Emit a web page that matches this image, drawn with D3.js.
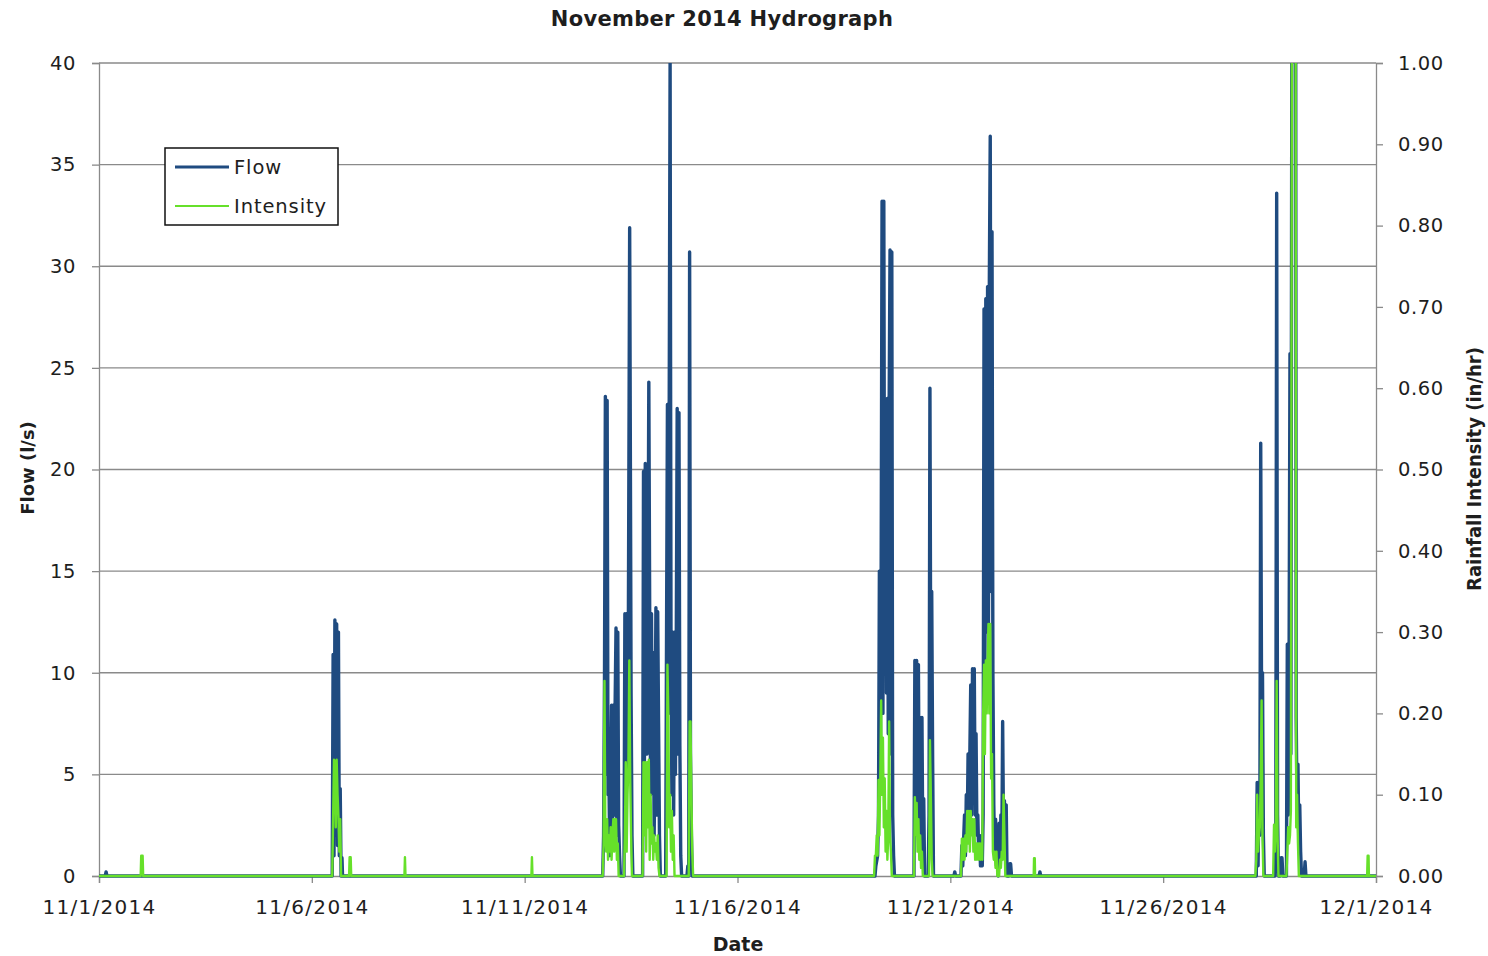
<!DOCTYPE html>
<html>
<head>
<meta charset="utf-8">
<script src="https://cdn.jsdelivr.net/npm/d3@7"></script>
<style>
  html, body { margin: 0; padding: 0; background: #fff; }
  svg { display: block; }
  text { fill: #1e1e1e; }
</style>
</head>
<body>
<svg id="chart" width="1488" height="956"></svg>
<script>
// ---- Chart text ----
const chartTitle = "November 2014 Hydrograph";
const xTitle = "Date";
const yLeftTitle = "Flow (l/s)";
const yRightTitle = "Rainfall Intensity (in/hr)";
const seriesNames = ["Flow", "Intensity"];

// ---- Axis ticks ----
const xTickLabels = ["11/1/2014", "11/6/2014", "11/11/2014", "11/16/2014", "11/21/2014", "11/26/2014", "12/1/2014"];
const flowTicks = [0, 5, 10, 15, 20, 25, 30, 35, 40];
const intensityTicks = [0, 0.1, 0.2, 0.3, 0.4, 0.5, 0.6, 0.7, 0.8, 0.9, 1.0];

// ---- Flow readings: [hours after 11/1/2014 00:00, flow in l/s] ----
const flowReadings = [
  [0, 0], [3.5, 0], [4, 0.2], [4.5, 0],
  // 11/6 storm
  [131.5, 0], [132, 10.9], [132.5, 1], [133, 12.6], [133.5, 2], [134, 12.4], [134.5, 1.5], [135, 12.0],
  [135.5, 1], [136, 4.3], [136.5, 0], [137, 0.9], [137.3, 0],
  // 11/12 - 11/15 storms
  [284, 0], [284.5, 2], [285, 9.5], [285.5, 23.6], [286, 5], [286.5, 23.4], [287, 4], [287.5, 4.9],
  [288, 1], [288.5, 4.9], [289, 8.4], [289.5, 1.5], [290, 8.4], [290.5, 3], [291, 8.4], [291.5, 12.2],
  [292, 2], [292.5, 12.0], [293, 2.5], [293.5, 1], [294, 0],
  [296, 0], [296.5, 12.9], [297, 4], [297.5, 12.9], [298, 5], [298.5, 13], [299.2, 31.9], [300, 9],
  [300.5, 2], [301, 0],
  [306.5, 0], [307, 19.9], [307.5, 5], [308, 20.3], [308.5, 12.9], [309, 6], [309.5, 12.9], [310, 24.3],
  [310.5, 12.9], [311, 4], [311.5, 12.9], [312, 5], [312.5, 11], [313, 2], [313.5, 6], [314, 13.2],
  [314.5, 3], [315, 13], [315.5, 7.5], [316, 2], [316.5, 0],
  [319.5, 0], [320, 12], [320.5, 23.2], [321, 8], [321.5, 23.2], [322, 40], [322.5, 12], [323, 4],
  [323.5, 12], [324, 3], [324.5, 12], [325, 5], [325.5, 12], [326, 23], [326.5, 6], [327, 22.8],
  [327.5, 6.4], [328, 1], [328.5, 0],
  [331.5, 0], [332, 0.5], [332.5, 0], [333, 30.7], [333.5, 6], [334, 2], [334.5, 0],
  // 11/19 - 11/20 storms
  [437.5, 0], [438, 0.5], [439, 1], [439.5, 3], [440, 15], [440.5, 5], [441, 15], [441.5, 33.2],
  [442, 8], [442.5, 33.2], [443, 10], [443.5, 23.4], [444, 9], [444.5, 23.5], [445, 7], [445.5, 23],
  [446, 30.8], [446.5, 6], [447, 30.7], [447.5, 3], [448, 1], [448.5, 0],
  [459.5, 0], [460, 10.6], [460.5, 2], [461, 10.6], [461.5, 3], [462, 10.4], [462.5, 2], [463, 7.8],
  [463.5, 1], [464, 7.8], [464.5, 1], [465, 3.8], [465.5, 0],
  [467.5, 0], [468, 3], [468.5, 24], [469, 8], [469.5, 14], [470, 6], [470.5, 0],
  // 11/21 - 11/22 storm
  [482, 0], [482.5, 0.2], [483, 0],
  [486, 0], [486.5, 1.5], [487, 0.5], [487.5, 1.8], [488, 3], [488.5, 1], [489, 4], [489.5, 2],
  [490, 6], [490.5, 2], [491, 6], [491.5, 9.4], [492, 3], [492.5, 10.2], [493, 4], [493.5, 10.2],
  [494, 3], [494.5, 7], [495, 2], [495.5, 3], [496, 1], [496.5, 2], [497, 0.5], [497.5, 1],
  [498, 0.5], [498.5, 3], [499, 27.9], [499.5, 10], [500, 28.4], [500.5, 12], [501, 29], [501.5, 12],
  [502, 29.3], [502.5, 36.4], [503, 14], [503.5, 31.7], [504, 10], [504.5, 3.5], [505, 1], [505.5, 2.8],
  [506, 0.5], [506.5, 1.5], [507, 0], [507.5, 2.6], [508, 0.5], [508.5, 3], [509, 1], [509.5, 7.6],
  [510, 2], [510.5, 3.7], [511, 1], [511.5, 3.5], [512, 0],
  [513, 0], [513.5, 0.6], [514, 0.6], [514.5, 0],
  [530, 0], [530.5, 0.2], [531, 0],
  // 11/28 - 11/29 storms
  [652.5, 0], [653, 4.6], [653.5, 0.5], [654, 4], [654.5, 2], [655, 21.3], [655.5, 8], [656, 10],
  [656.5, 2], [657, 0],
  [663, 0], [663.5, 2], [664, 33.6], [664.5, 3], [665, 0], [666, 0], [666.5, 0.9], [667, 0.9], [667.5, 0],
  [669.5, 0], [670, 11.4], [670.5, 3], [671, 10.6], [671.5, 25.7], [672, 6], [672.6, 45], [674.7, 45],
  [675, 7.8], [675.5, 3], [676, 5.5], [676.5, 1.5], [677, 3.5], [677.5, 1.2], [678, 0],
  [679.5, 0], [680, 0.7], [680.5, 0],
  [720, 0]
];

// ---- Rainfall intensity readings: [hours after 11/1/2014 00:00, in/hr] ----
const intensityReadings = [
  [0, 0], [23.5, 0], [23.8, 0.025], [24.6, 0.025], [24.9, 0],
  // 11/6 storm
  [131.5, 0], [132.5, 0.143], [133, 0.14], [133.5, 0.06], [134, 0.143], [134.5, 0.1], [135, 0.073],
  [135.5, 0.03], [136, 0.07], [136.5, 0],
  [141, 0], [141.3, 0.023], [141.9, 0.023], [142.2, 0],
  [172.2, 0], [172.5, 0.023], [172.8, 0],
  [243.8, 0], [244.1, 0.023], [244.4, 0],
  // 11/12 - 11/15 storms
  [284, 0], [284.5, 0.04], [285, 0.24], [285.5, 0.05], [286, 0.03], [286.5, 0.07], [287, 0.02],
  [287.5, 0.05], [288, 0.03], [288.5, 0.06], [289, 0.02], [289.5, 0.05], [290, 0.07], [290.5, 0.03],
  [291, 0.07], [291.5, 0.07], [292, 0.02], [292.5, 0.04], [293, 0],
  [296, 0], [296.5, 0.05], [297, 0.14], [297.5, 0.03], [298, 0.1], [298.5, 0.14], [299, 0.265],
  [299.5, 0.12], [300, 0.05], [300.5, 0],
  [306.5, 0], [307, 0.14], [307.5, 0.05], [308, 0.14], [308.5, 0.03], [309, 0.14], [309.5, 0.06],
  [310, 0.143], [310.5, 0.02], [311, 0.1], [311.5, 0.04], [312, 0.06], [312.5, 0.02], [313, 0.05],
  [313.5, 0.03], [314, 0.04], [314.5, 0.02], [315, 0.05], [315.5, 0.01], [316, 0],
  [320, 0], [320.5, 0.26], [321, 0.2], [321.5, 0.06], [322, 0.1], [322.5, 0.03], [323, 0.08],
  [323.5, 0.02], [324, 0.05], [324.5, 0],
  [332.5, 0], [333, 0.19], [333.5, 0.19], [334, 0.1], [334.5, 0.03], [335, 0],
  // 11/19 - 11/20 storms
  [437, 0], [437.5, 0.025], [438, 0.025], [438.5, 0.05], [439, 0.025], [439.5, 0.118], [440, 0.05],
  [440.5, 0.12], [441, 0.216], [441.5, 0.1], [442, 0.17], [442.5, 0.06], [443, 0.12], [443.5, 0.03],
  [444, 0.08], [444.5, 0.02], [445, 0.05], [445.5, 0.19], [446, 0.05], [446.5, 0.03], [447, 0],
  [459.5, 0], [460, 0.097], [460.5, 0.05], [461, 0.09], [461.5, 0.03], [462, 0.07], [462.5, 0.02],
  [463, 0.05], [463.5, 0.01], [464, 0.03], [464.5, 0],
  [468, 0], [468.5, 0.167], [469, 0.1], [469.5, 0.02], [470, 0],
  // 11/21 - 11/22 storm
  [486, 0], [486.5, 0.046], [487, 0.02], [487.5, 0.046], [488, 0.02], [488.5, 0.05], [489, 0.03],
  [489.5, 0.08], [490, 0.04], [490.5, 0.08], [491, 0.03], [491.5, 0.08], [492, 0.05], [492.5, 0.07],
  [493, 0.03], [493.5, 0.07], [494, 0.02], [494.5, 0.04], [495, 0.02], [495.5, 0.04], [496, 0.02],
  [496.5, 0.04], [497, 0.02], [497.5, 0.04], [498, 0.02], [498.5, 0.2], [499, 0.26], [499.5, 0.15],
  [500, 0.265], [500.5, 0.2], [501, 0.265], [501.5, 0.31], [502, 0.2], [502.5, 0.31], [503, 0.12],
  [503.5, 0.15], [504, 0.03], [504.5, 0.02], [505, 0.03], [505.5, 0.01], [506, 0.03], [506.5, 0],
  [507.5, 0], [508, 0.02], [508.5, 0.01], [509, 0.03], [509.5, 0.02], [510, 0.1], [510.5, 0.05], [511, 0],
  [527, 0], [527.2, 0.022], [527.6, 0.022], [527.8, 0],
  // 11/28 - 11/29 storms
  [652, 0], [652.5, 0.02], [653, 0.1], [653.5, 0.03], [654, 0.05], [654.5, 0.06], [655, 0.12],
  [655.5, 0.216], [656, 0.05], [656.5, 0],
  [662, 0], [662.5, 0.063], [663, 0.03], [663.5, 0.06], [664, 0.24], [664.5, 0.05], [665, 0],
  [669.5, 0], [670, 0.03], [670.5, 0.06], [671, 0.04], [671.5, 0.05], [672, 0.08], [672.6, 1.05],
  [674.7, 1.05], [675, 0.06], [675.5, 0.1], [676, 0.04], [676.5, 0],
  [715, 0], [715.3, 0.025], [715.8, 0.025], [716, 0],
  [720, 0]
];

// ---- Layout ----
const plot = { left: 99, right: 1376, top: 63, bottom: 876 };
const flowColor = "#1f4b80";
const intensityColor = "#66e02a";
const gridColor = "#8a8a8a";
const font = "'DejaVu Sans', Verdana, sans-serif";

const startMs = Date.UTC(2014, 10, 1);
const toDate = h => new Date(startMs + h * 3600e3);
const parseLabel = s => { const [m, d, y] = s.split("/").map(Number); return new Date(Date.UTC(y, m - 1, d)); };

const x = d3.scaleUtc().domain([toDate(0), toDate(720)]).range([plot.left, plot.right]);
const yFlow = d3.scaleLinear().domain([0, 40]).range([plot.bottom, plot.top]);
const yInt = d3.scaleLinear().domain([0, 1]).range([plot.bottom, plot.top]);

const svg = d3.select("#chart");

// clip for the data lines (leave room for the baseline stroke)
svg.append("defs").append("clipPath").attr("id", "plotClip")
  .append("rect")
  .attr("x", plot.left).attr("y", plot.top)
  .attr("width", plot.right - plot.left).attr("height", plot.bottom - plot.top + 4);

// horizontal gridlines on the flow scale
svg.append("g")
  .selectAll("line").data(flowTicks.filter(v => v > 0)).join("line")
  .attr("x1", plot.left).attr("x2", plot.right)
  .attr("y1", d => yFlow(d)).attr("y2", d => yFlow(d))
  .attr("stroke", gridColor).attr("stroke-width", 1.3);

// left axis
const leftAxis = svg.append("g").attr("transform", `translate(${plot.left},0)`)
  .call(d3.axisLeft(yFlow).tickValues(flowTicks).tickFormat(d3.format("d")).tickSize(7).tickPadding(16));
// right axis
const rightAxis = svg.append("g").attr("transform", `translate(${plot.right},0)`)
  .call(d3.axisRight(yInt).tickValues(intensityTicks).tickFormat(d3.format(".2f")).tickSize(7).tickPadding(15));
// bottom axis
const bottomAxis = svg.append("g").attr("transform", `translate(0,${plot.bottom})`)
  .call(d3.axisBottom(x).tickValues(xTickLabels.map(parseLabel))
    .tickFormat((d, i) => xTickLabels[i]).tickSize(7).tickPadding(17));

[leftAxis, rightAxis, bottomAxis].forEach(g => {
  g.select(".domain").attr("stroke", gridColor).attr("stroke-width", 1.3);
  g.selectAll(".tick line").attr("stroke", gridColor).attr("stroke-width", 1.3);
  g.selectAll(".tick text").attr("font-family", font).attr("font-size", 19.5)
    .attr("fill", "#1e1e1e").style("letter-spacing", "0.6px");
});
bottomAxis.selectAll(".tick text").attr("font-size", 20).style("letter-spacing", "1.3px");

// data lines
const lineFlow = d3.line().x(d => x(toDate(d[0]))).y(d => yFlow(d[1]));
const lineInt = d3.line().x(d => x(toDate(d[0]))).y(d => yInt(d[1]));

const lines = svg.append("g").attr("clip-path", "url(#plotClip)");
lines.append("path").datum(flowReadings)
  .attr("d", lineFlow).attr("fill", "none")
  .attr("stroke", flowColor).attr("stroke-width", 3.4).attr("stroke-linejoin", "round");
lines.append("path").datum(intensityReadings)
  .attr("d", lineInt).attr("fill", "none")
  .attr("stroke", intensityColor).attr("stroke-width", 2.4).attr("stroke-linejoin", "round");

// title
svg.append("text").attr("x", 722).attr("y", 26).attr("text-anchor", "middle")
  .attr("font-family", font).attr("font-weight", "bold").attr("font-size", 21)
  .style("letter-spacing", "0.3px")
  .text(chartTitle);

// axis titles
svg.append("text").attr("x", 738).attr("y", 951).attr("text-anchor", "middle")
  .attr("font-family", font).attr("font-weight", "bold").attr("font-size", 19)
  .text(xTitle);
svg.append("text").attr("transform", "translate(34,468) rotate(-90)").attr("text-anchor", "middle")
  .attr("font-family", font).attr("font-weight", "bold").attr("font-size", 18)
  .text(yLeftTitle);
svg.append("text").attr("transform", "translate(1481,469) rotate(-90)").attr("text-anchor", "middle")
  .attr("font-family", "'Liberation Sans Narrow', 'DejaVu Sans Condensed', sans-serif")
  .attr("font-weight", "bold").attr("font-size", 20)
  .text(yRightTitle);

// legend
const legend = svg.append("g");
legend.append("rect").attr("x", 165).attr("y", 148).attr("width", 173).attr("height", 77)
  .attr("fill", "#fff").attr("stroke", "#111").attr("stroke-width", 1.5);
const legendRows = [
  { name: seriesNames[0], color: flowColor, width: 3, y: 167 },
  { name: seriesNames[1], color: intensityColor, width: 2, y: 206 }
];
legendRows.forEach(r => {
  legend.append("line").attr("x1", 175).attr("x2", 229).attr("y1", r.y).attr("y2", r.y)
    .attr("stroke", r.color).attr("stroke-width", r.width);
  legend.append("text").attr("x", 234).attr("y", r.y).attr("dy", "0.35em")
    .attr("font-family", font).attr("font-size", 19.5).style("letter-spacing", "0.9px")
    .text(r.name);
});
</script>
</body>
</html>
